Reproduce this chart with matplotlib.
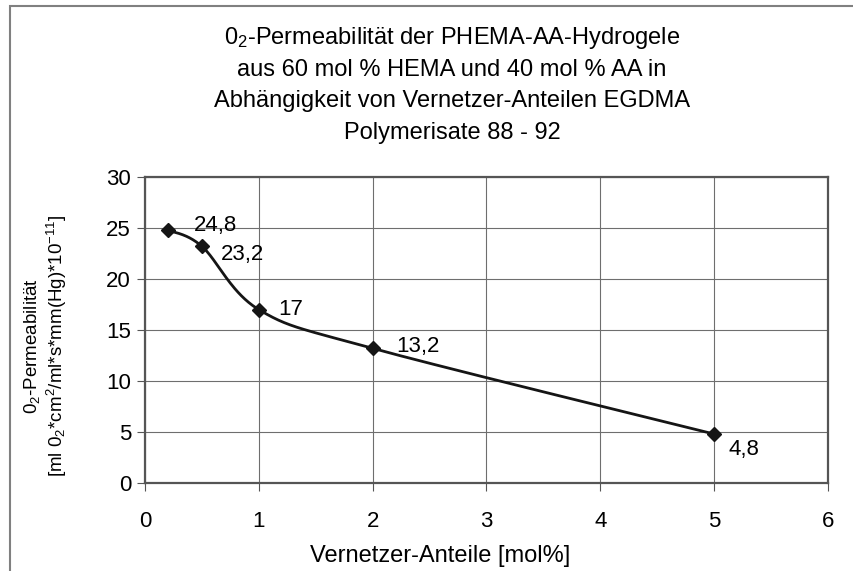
import numpy as np
import matplotlib
matplotlib.use("Agg")
import matplotlib.pyplot as plt
from matplotlib.patches import Rectangle

plt.rcParams['font.family'] = ['Liberation Sans', 'DejaVu Sans']
plt.rcParams['mathtext.fontset'] = 'custom'
plt.rcParams['mathtext.rm'] = 'Liberation Sans'
plt.rcParams['mathtext.it'] = 'Liberation Sans'
plt.rcParams['mathtext.default'] = 'regular'

# data
vernetzer = [0.2, 0.5, 1, 2, 5]
permeabilitaet = [24.8, 23.2, 17, 13.2, 4.8]
labels = ["24,8", "23,2", "17", "13,2", "4,8"]
label_offsets = [(19, 3), (14, -6), (14, 0), (17, 1), (10, -11)]  # points
title_lines = ["0$_2$-Permeabilität der PHEMA-AA-Hydrogele",
               "aus 60 mol % HEMA und 40 mol % AA in",
               "Abhängigkeit von Vernetzer-Anteilen EGDMA",
               "Polymerisate 88 - 92"]
x_ticks = [0, 1, 2, 3, 4, 5, 6]
y_ticks = [0, 5, 10, 15, 20, 25, 30]

W, H = 854, 571
fig = plt.figure(figsize=(W / 100, H / 100), dpi=100)
fig.patch.set_facecolor('white')

# chart area border (cropped on right/bottom)
fig.patches.append(Rectangle((10 / W, -0.1), 1.2, 1 - 6 / H + 0.1, transform=fig.transFigure,
                             fill=False, edgecolor='#808080', linewidth=1.5))

ax = fig.add_axes([145 / W, 1 - 483 / H, (828 - 145) / W, (483 - 177) / H])
ax.set_xlim(0, 6)
ax.set_ylim(0, 30)
ax.set_xticks(x_ticks)
ax.set_yticks(y_ticks)
ax.grid(True, color='#6e6e6e', linewidth=0.8)
ax.set_axisbelow(True)
for s in ax.spines.values():
    s.set_color('#555555')
    s.set_linewidth(1.6)
ax.tick_params(axis='both', labelsize=16, length=6, width=0.8, color='#555555', pad=4)
ax.tick_params(axis='x', pad=14)

# Excel-style smoothed line (Bezier in display space)
fig.canvas.draw()
pts = ax.transData.transform(np.column_stack([vernetzer, permeabilitaet]))
n = len(pts)
curve = []
for i in range(n - 1):
    p0 = pts[i - 1] if i > 0 else pts[i]
    p1 = pts[i]
    p2 = pts[i + 1]
    p3 = pts[i + 2] if i + 2 < n else pts[i + 1]
    c1 = p1 + (p2 - p0) / 6
    c2 = p2 - (p3 - p1) / 6
    t = np.linspace(0, 1, 40)[:, None]
    seg = (1 - t) ** 3 * p1 + 3 * (1 - t) ** 2 * t * c1 + 3 * (1 - t) * t ** 2 * c2 + t ** 3 * p2
    curve.append(seg)
curve = ax.transData.inverted().transform(np.vstack(curve))
ax.plot(curve[:, 0], curve[:, 1], color='#151515', linewidth=2.0, zorder=3)
ax.plot(vernetzer, permeabilitaet, linestyle='none', marker='D', markersize=7,
        color='#151515', zorder=4)

for xv, yv, lab, off in zip(vernetzer, permeabilitaet, labels, label_offsets):
    ax.annotate(lab, (xv, yv), xytext=off, textcoords='offset points',
                ha='left', va='center', fontsize=16, color='black')

# title
for i, line in enumerate(title_lines):
    fig.text(452 / W, 1 - (38 + i * 31.7) / H, line, ha='center', va='center', fontsize=17)

# axis labels
fig.text(440 / W, 1 - 556 / H, "Vernetzer-Anteile [mol%]", ha='center', va='center', fontsize=17)
fig.text(32 / W, 1 - 346 / H, "0$_2$-Permeabilität", rotation=90, ha='center', va='center', fontsize=13.5)
fig.text(57 / W, 1 - 346 / H, "[ml 0$_2$*cm$^2$/ml*s*mm(Hg)*10$^{-11}$]", rotation=90,
         ha='center', va='center', fontsize=13.5)

fig.savefig("out.png", dpi=100)
